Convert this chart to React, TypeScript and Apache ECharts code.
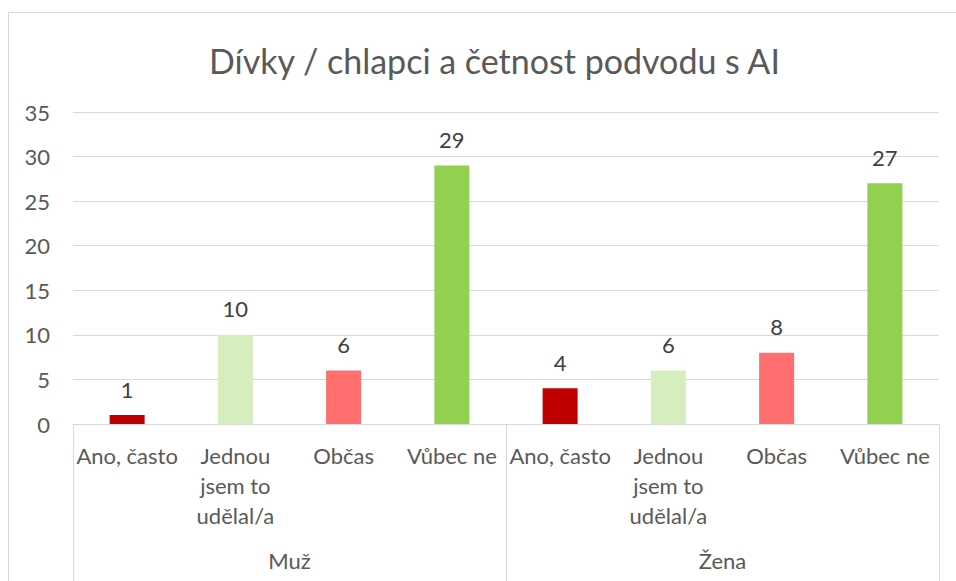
import React, { useEffect, useRef } from "react";
import * as echarts from "echarts";

const titleText = "Dívky / chlapci a četnost podvodu s AI";
const answers = ["Ano, často", "Jednou jsem to udělal/a", "Občas", "Vůbec ne"];
const groups = ["Muž", "Žena"];
const muzValues = [1, 10, 6, 29];
const zenaValues = [4, 6, 8, 27];
const answerColors = ["#C00000", "#D6EDBE", "#FF6F6F", "#92D050"];
const yTicks = { min: 0, max: 35, interval: 5 };

const FONT = "Lato, 'Noto Sans', sans-serif";
const TEXT = "#595959";
const GRID = "#d9d9d9";

export default function App() {
  const ref = useRef<HTMLDivElement>(null);
  useEffect(() => {
    document.body.style.margin = "0";
    const chart = echarts.init(ref.current!, null, { renderer: "svg" });
    const categories = [...answers, ...answers];
    const values = [...muzValues, ...zenaValues];
    const data = values.map((v, i) => ({
      value: v,
      itemStyle: { color: answerColors[i % answers.length] },
    }));
    chart.setOption({
      animation: false,
      backgroundColor: "#fff",
      textStyle: { fontFamily: FONT },
      title: {
        text: titleText,
        left: 204,
        top: 38,
        textStyle: { fontFamily: FONT, fontSize: 34, fontWeight: "normal", color: TEXT },
      },
      graphic: [
        {
          type: "rect",
          shape: { x: 8.5, y: 12.5, width: 1000, height: 1000 },
          style: { fill: "none", stroke: GRID, lineWidth: 1 },
          silent: true,
        },
      ],
      grid: { left: 73, right: 17, top: 112, bottom: 157 },
      xAxis: [
        {
          type: "category",
          data: categories,
          position: "bottom",
          axisLine: { show: true, lineStyle: { color: GRID, width: 1 } },
          axisTick: { show: false },
          axisLabel: {
            interval: 0,
            margin: 16,
            fontFamily: FONT,
            fontSize: 22,
            color: TEXT,
            lineHeight: 30,
            formatter: (v: string) => v.replace("Jednou jsem to ", "Jednou\njsem to\n"),
          },
        },
        {
          type: "category",
          data: groups,
          position: "bottom",
          axisLine: { show: false },
          axisTick: { show: true, length: 160, lineStyle: { color: GRID, width: 1 } },
          axisLabel: {
            interval: 0,
            margin: 123,
            fontFamily: FONT,
            fontSize: 22,
            color: TEXT,
            lineHeight: 26,
          },
          splitLine: { show: false },
        },
      ],
      yAxis: {
        type: "value",
        min: yTicks.min,
        max: yTicks.max,
        interval: yTicks.interval,
        axisLine: { show: false },
        axisTick: { show: false },
        axisLabel: { margin: 23, fontFamily: FONT, fontSize: 22, color: TEXT },
        splitLine: { lineStyle: { color: GRID, width: 1 } },
      },
      series: [
        {
          type: "bar",
          xAxisIndex: 0,
          data,
          barWidth: 35,
          label: {
            show: true,
            position: "top",
            distance: 15,
            fontFamily: FONT,
            fontSize: 22,
            color: "#404040",
          },
        },
      ],
    });
    return () => chart.dispose();
  }, []);
  return <div ref={ref} style={{ width: 956, height: 581 }} />;
}
